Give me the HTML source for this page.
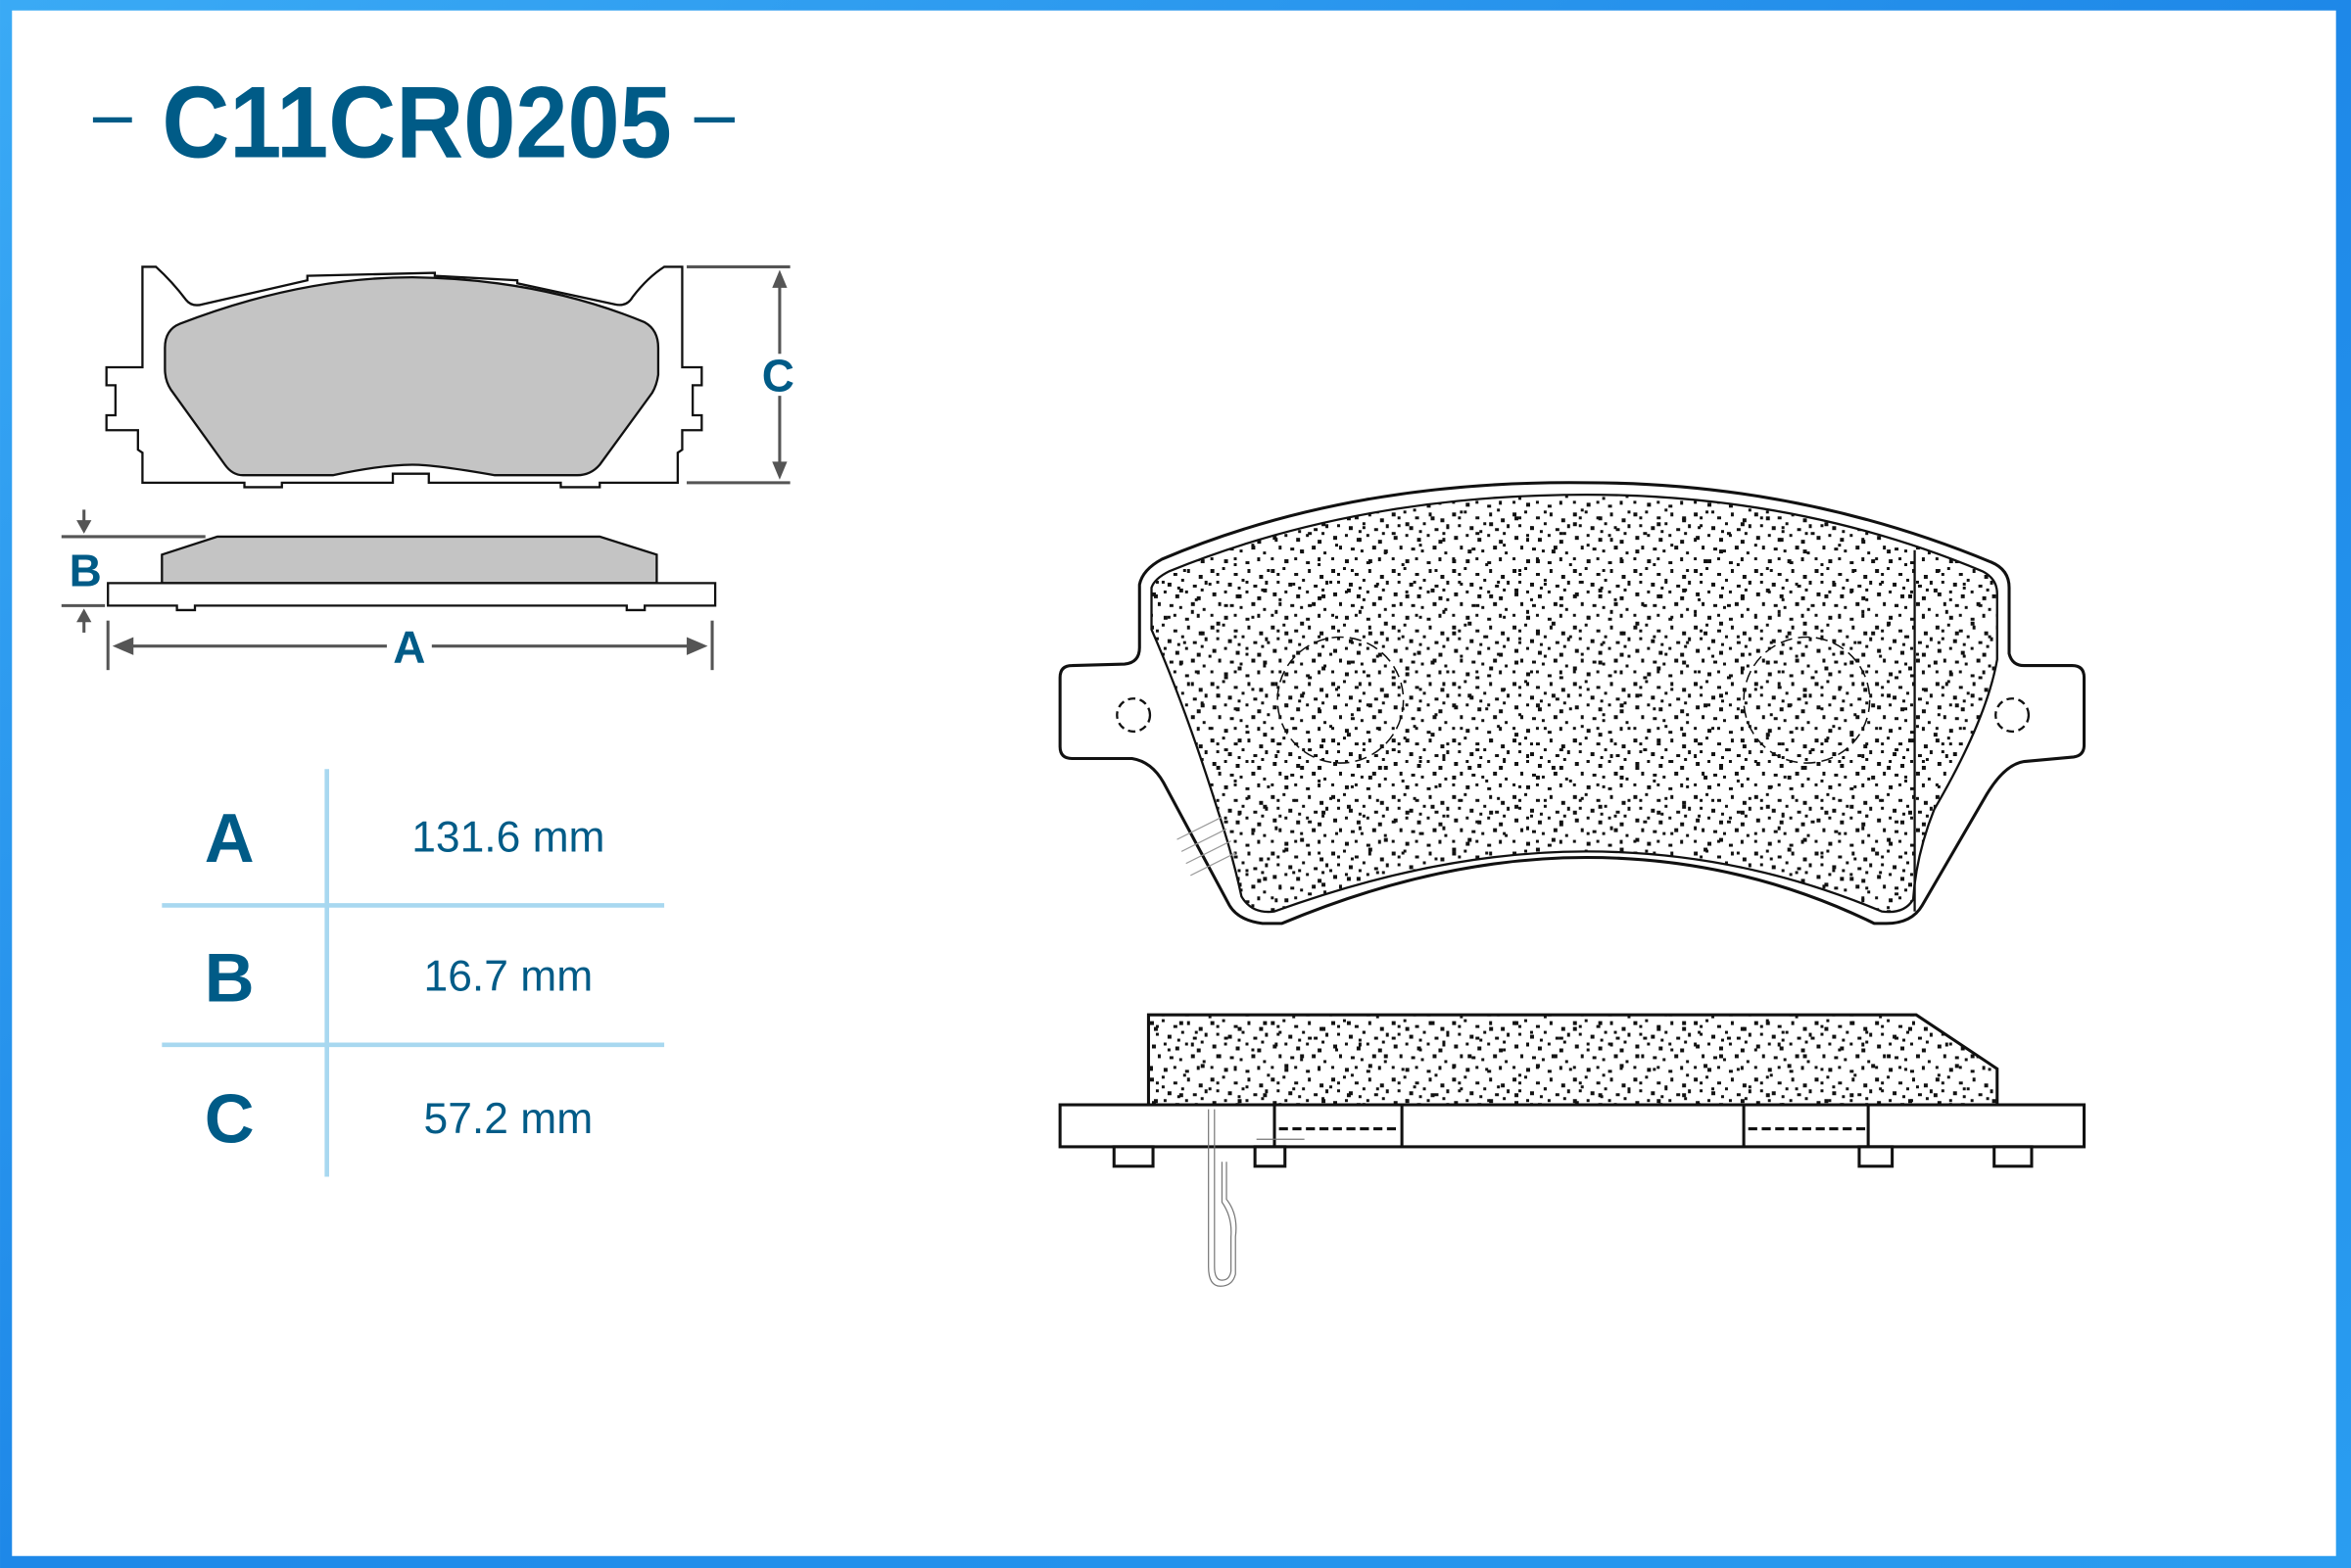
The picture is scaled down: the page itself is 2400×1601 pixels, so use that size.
<!DOCTYPE html>
<html><head><meta charset="utf-8"><style>
html,body{margin:0;padding:0;background:#fff}
svg{display:block}
text{font-family:"Liberation Sans",Arial,sans-serif}
</style></head><body>
<svg width="2400" height="1601" viewBox="0 0 1568 1046" xmlns="http://www.w3.org/2000/svg">
<defs>
<linearGradient id="g" x1="0" y1="0" x2="1" y2="1">
<stop offset="0" stop-color="#3aaaf5"/><stop offset="0.5" stop-color="#1e88e8"/><stop offset="1" stop-color="#2a9df0"/>
</linearGradient>
<pattern id="p1" width="31" height="29" patternUnits="userSpaceOnUse" patternTransform="scale(1.3)">
<g fill="#111">
<rect x="1" y="2" width="2" height="2"/><rect x="7" y="1" width="1.5" height="1.5"/><rect x="13" y="4" width="2" height="1.5"/><rect x="20" y="2" width="1.5" height="2"/><rect x="26" y="5" width="2" height="2"/>
<rect x="4" y="8" width="1.5" height="1.5"/><rect x="10" y="9" width="2" height="2"/><rect x="17" y="7" width="1.5" height="1.5"/><rect x="23" y="10" width="2" height="1.5"/><rect x="29" y="8" width="1.5" height="2"/>
<rect x="2" y="14" width="2" height="2"/><rect x="8" y="13" width="1.5" height="1.5"/><rect x="14" y="15" width="2" height="2"/><rect x="19" y="13" width="1.5" height="1.5"/><rect x="25" y="16" width="2" height="2"/>
<rect x="5" y="19" width="1.5" height="2"/><rect x="11" y="20" width="2" height="1.5"/><rect x="16" y="21" width="1.5" height="1.5"/><rect x="22" y="19" width="2" height="2"/><rect x="28" y="22" width="1.5" height="1.5"/>
<rect x="1" y="25" width="1.5" height="1.5"/><rect x="8" y="26" width="2" height="2"/><rect x="13" y="25" width="1.5" height="1.5"/><rect x="19" y="27" width="2" height="1.5"/><rect x="25" y="25" width="1.5" height="2"/>
<rect x="15" y="11" width="1.5" height="1.5"/><rect x="4" y="4" width="1.5" height="1.5"/><rect x="27" y="12" width="1.5" height="1.5"/>
</g></pattern>
<pattern id="p2" width="43" height="37" patternUnits="userSpaceOnUse" patternTransform="scale(1.3)">
<g fill="#111">
<rect x="3" y="6" width="2" height="2"/><rect x="18" y="3" width="1.5" height="1.5"/><rect x="33" y="9" width="2" height="2"/><rect x="9" y="17" width="1.5" height="2"/><rect x="26" y="14" width="2" height="1.5"/>
<rect x="40" y="20" width="1.5" height="1.5"/><rect x="14" y="28" width="2" height="2"/><rect x="31" y="30" width="1.5" height="1.5"/><rect x="5" y="33" width="1.5" height="1.5"/><rect x="22" y="23" width="2" height="2"/>
<rect x="37" y="2" width="1.5" height="1.5"/><rect x="11" y="11" width="1.5" height="1.5"/>
</g></pattern>
<path id="fr1" d="M768,392 Q770,386 780,381 Q905,330 1058,330 Q1200,330 1322,381 Q1332,386 1332,396 L1332,440 Q1325,480 1290,540 Q1278,570 1276,600 Q1270,610 1255,608 Q1160,568 1058,568 Q960,568 850,608 Q835,610 828,598 Q822,570 812,540 Q790,470 768,420 Z"/>
<path id="fr2" d="M766,677 L1278,677 L1332,713 L1332,737 L766,737 Z"/>
</defs>
<rect x="0" y="0" width="1568" height="1046" fill="url(#g)"/>
<rect x="8" y="7" width="1550" height="1031" fill="#fff"/>

<line x1="62" y1="80" x2="88" y2="80" stroke="#005b87" stroke-width="3.5"/>
<line x1="463" y1="80" x2="490" y2="80" stroke="#005b87" stroke-width="3.5"/>
<text x="108" y="105" font-size="68" font-weight="bold" fill="#005b87" textLength="340" lengthAdjust="spacingAndGlyphs">C11CR0205</text>

<g fill="none" stroke="#111" stroke-width="1.5">
<path fill="#fff" d="M95,178 L104,178 Q115,188 124,200 Q128,205 135,203 L205,187 L205,184 L290,182 L290,184 L345,187 L345,189 L410,203 Q418,205 422,198 Q432,185 443,178 L455,178 L455,245 L468,245 L468,257 L462,257 L462,277 L468,277 L468,287 L455,287 L455,300 L452,302 L452,322 L400,322 L400,325 L374,325 L374,322 L286,322 L286,316 L262,316 L262,322 L188,322 L188,325 L163,325 L163,322 L95,322 L95,302 L92,300 L92,287 L71,287 L71,277 L77,277 L77,257 L71,257 L71,245 L95,245 Z"/>
<path fill="#c4c4c4" d="M110,232 Q110,220 120,216 Q200,185 275,185 Q360,186 430,215 Q439,220 439,232 L439,250 Q438,257 435,262 L400,310 Q394,317 385,317 L330,317 Q290,310 275,310 Q255,310 222,317 L162,317 Q155,317 150,310 L114,260 Q110,254 110,246 Z"/>
<path fill="#c4c4c4" d="M108,370 L145,358 L400,358 L438,370 L438,389 L108,389 Z"/>
<path fill="#fff" d="M72,389 L477,389 L477,404 L430,404 L430,407 L418,407 L418,404 L130,404 L130,407 L118,407 L118,404 L72,404 Z"/>
</g>
<g stroke="#555" stroke-width="2" fill="#555">
<line x1="458" y1="178" x2="527" y2="178"/><line x1="458" y1="322" x2="527" y2="322"/>
<line x1="520" y1="190" x2="520" y2="236"/><line x1="520" y1="264" x2="520" y2="310"/>
<path d="M520,180 L515,192 L525,192 Z" stroke="none"/><path d="M520,320 L515,308 L525,308 Z" stroke="none"/>
<line x1="41" y1="358" x2="137" y2="358"/><line x1="41" y1="404" x2="70" y2="404"/>
<line x1="56" y1="340" x2="56" y2="350"/><path d="M56,356 L51,347 L61,347 Z" stroke="none"/>
<line x1="56" y1="412" x2="56" y2="422"/><path d="M56,406 L51,415 L61,415 Z" stroke="none"/>
<line x1="72" y1="414" x2="72" y2="447"/><line x1="475" y1="414" x2="475" y2="447"/>
<line x1="84" y1="431" x2="258" y2="431"/><line x1="288" y1="431" x2="463" y2="431"/>
<path d="M75,431 L89,425 L89,437 Z" stroke="none"/><path d="M472,431 L458,425 L458,437 Z" stroke="none"/>
</g>
<g fill="#005b87" font-weight="bold" font-size="30" text-anchor="middle">
<text x="519" y="261">C</text><text x="57" y="391">B</text><text x="273" y="442">A</text>
</g>

<g stroke="#a8d8f0" stroke-width="3">
<line x1="218" y1="513" x2="218" y2="785"/>
<line x1="108" y1="604" x2="443" y2="604"/><line x1="108" y1="697" x2="443" y2="697"/>
</g>
<g fill="#005b87" font-weight="bold" font-size="46" text-anchor="middle">
<text x="153" y="575">A</text><text x="153" y="668">B</text><text x="153" y="762">C</text>
</g>
<g fill="#005b87" font-size="29" text-anchor="middle">
<text x="339" y="568">131.6 mm</text><text x="339" y="661">16.7 mm</text><text x="339" y="756">57.2 mm</text>
</g>

<g fill="none" stroke="#111" stroke-width="2">
<path fill="#fff" d="M760,390 Q762,380 775,373 Q900,320 1058,322 Q1200,322 1328,375 Q1340,380 1340,392 L1340,436 Q1342,444 1350,444 L1382,444 Q1390,444 1390,452 L1390,497 Q1390,504 1383,505 L1350,508 Q1337,510 1325,530 L1282,604 Q1275,616 1258,616 L1250,616 Q1160,572 1058,572 Q960,572 855,616 L842,616 Q826,614 820,604 L776,522 Q768,508 755,506 L715,506 Q707,506 707,498 L707,452 Q707,444 715,444 L750,443 Q760,442 760,432 Z"/>
</g>
<use href="#fr1" fill="url(#p1)"/>
<use href="#fr1" fill="url(#p2)"/>
<g fill="none" stroke="#111" stroke-width="1.5">
<use href="#fr1"/>
<line x1="1277" y1="367" x2="1277" y2="608"/>
<circle cx="756" cy="477" r="11" stroke-dasharray="5,3"/>
<circle cx="1342" cy="477" r="11" stroke-dasharray="5,3"/>
<circle cx="894" cy="467" r="42" stroke-dasharray="8,4" stroke-width="1"/>
<circle cx="1205" cy="467" r="42" stroke-dasharray="8,4" stroke-width="1"/>
</g>
<g stroke="#999" stroke-width="0.8" fill="none">
<path d="M785,560 L815,545 M788,568 L818,553 M791,576 L821,561 M794,584 L824,569"/>
</g>

<use href="#fr2" fill="url(#p1)"/>
<use href="#fr2" fill="url(#p2)"/>
<g fill="none" stroke="#111" stroke-width="2">
<path d="M766,737 L766,677 L1278,677 L1332,713 L1332,737"/>
<rect x="707" y="737" width="683" height="28" fill="#fff"/>
<path d="M850,737 L850,765 M935,737 L935,765 M1163,737 L1163,765 M1246,737 L1246,765"/>
<path d="M853,753 L933,753 M1166,753 L1244,753" stroke-dasharray="6,3"/>
<rect x="743" y="765" width="26" height="13" fill="#fff"/>
<rect x="837" y="765" width="20" height="13" fill="#fff"/>
<rect x="1240" y="765" width="22" height="13" fill="#fff"/>
<rect x="1330" y="765" width="25" height="13" fill="#fff"/>
</g>
<g stroke="#777" stroke-width="0.8" fill="none">
<path d="M806,740 L806,845 Q806,858 814,858 Q822,858 824,850 L824,825 Q826,810 818,800 L818,775"/>
<path d="M810,740 L810,845 Q810,854 815,854 Q820,854 821,848 L821,825 Q822,812 815,802 L815,775"/>
<path d="M838,760 L870,760"/>
</g>
</svg>
</body></html>
